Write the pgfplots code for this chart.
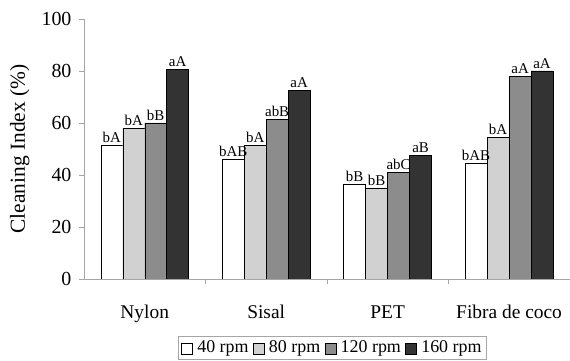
\documentclass[border=0pt]{standalone}
\usepackage{fontspec}
\setmainfont{Liberation Serif}
\usepackage{pgfplots}
\pgfplotsset{compat=1.18}
\usepackage{pgfplotstable}

\pgfplotstableread{
x y lab
0 51.5 bA
1 46 bAB
2 36.5 bB
3 44.5 bAB
}\rpmA
\pgfplotstableread{
x y lab
0 58 bA
1 51.5 bA
2 35 bB
3 54.5 bA
}\rpmB
\pgfplotstableread{
x y lab
0 60 bB
1 61.5 abB
2 41 abC
3 78 aA
}\rpmC
\pgfplotstableread{
x y lab
0 80.5 aA
1 72.5 aA
2 47.5 aB
3 80 aA
}\rpmD

\definecolor{cB}{gray}{0.82}
\definecolor{cC}{gray}{0.55}
\definecolor{cD}{gray}{0.2}

\begin{document}
\begin{tikzpicture}
\begin{axis}[
  at={(0,0)}, anchor=south west,
  scale only axis, width=486bp, height=260bp,
  ybar=0pt, bar width=22bp,
  xmin=-0.5, xmax=3.5, ymin=0, ymax=100,
  axis x line=bottom, axis y line=left,
  axis line style={-, draw=gray!70},
  xtick={0,1,2,3},
  xticklabels={Nylon,Sisal,PET,Fibra de coco},
  major x tick style={draw=none},
  minor xtick={0.5,1.5,2.5},
  minor x tick style={draw=gray!70},
  minor tick length=5bp,
  ytick={0,20,40,60,80,100},
  y tick style={draw=gray!70},
  tick align=outside, major tick length=5bp,
  /pgf/number format/assume math mode=true,
  yticklabel style={font=\fontsize{20}{22}\selectfont, xshift=-4bp},
  xticklabel style={font=\fontsize{19.5}{22}\selectfont, yshift=-18bp},
  ylabel={Cleaning Index (\%)},
  ylabel style={font=\fontsize{21.5}{24}\selectfont, at={(axis description cs:-0.132,0.5)}, anchor=center},
  point meta=explicit symbolic,
  nodes near coords,
  nodes near coords style={font=\fontsize{15}{17}\selectfont, black, inner sep=2.5bp},
  legend columns=4,
  legend style={at={(axis description cs:0.511,-0.219)}, anchor=north,
    draw=gray!70, font=\fontsize{18}{20}\selectfont, inner xsep=3bp, inner ysep=3bp,
    nodes={inner xsep=1.5bp},
    /tikz/every odd column/.append style={column sep=3bp},
    /tikz/every even column/.append style={column sep=3bp}},
  legend image code/.code={\draw[#1] (0bp,-6bp) rectangle (11bp,5bp);},
]
\addplot[draw=black, fill=white] table[x=x,y=y,meta=lab] {\rpmA};
\addplot[draw=black, fill=cB] table[x=x,y=y,meta=lab] {\rpmB};
\addplot[draw=black, fill=cC] table[x=x,y=y,meta=lab] {\rpmC};
\addplot[draw=black, fill=cD] table[x=x,y=y,meta=lab] {\rpmD};
\legend{40 rpm, 80 rpm, 120 rpm, 160 rpm}
\end{axis}
\path[use as bounding box] (-84bp,-82bp) rectangle (486bp,279bp);
\end{tikzpicture}
\end{document}
